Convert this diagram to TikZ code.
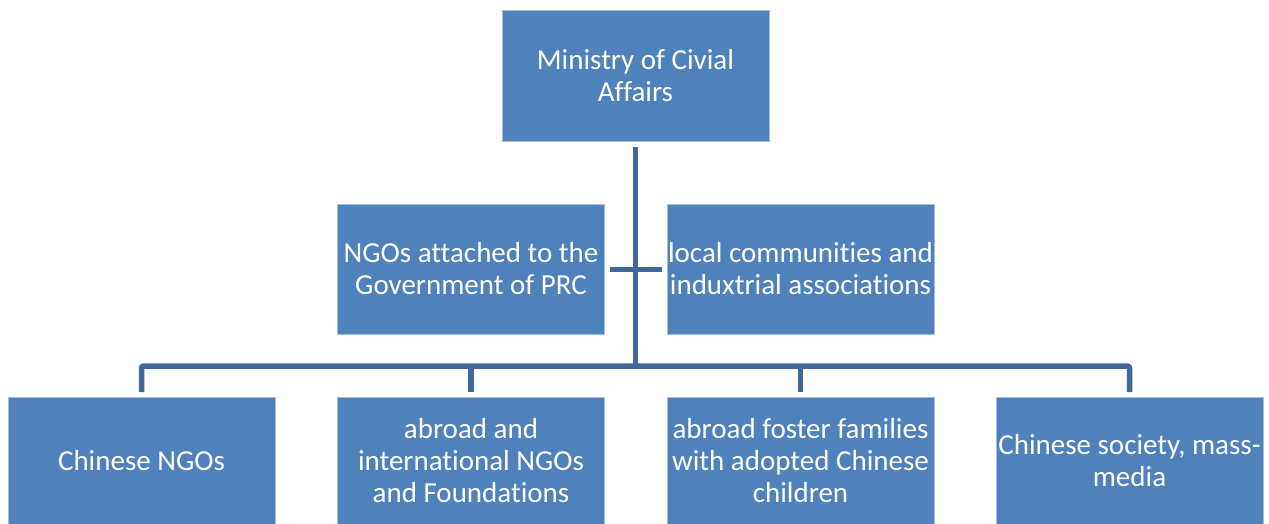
\documentclass[tikz,border=0pt]{standalone}
\usepackage{fontspec}
\setmainfont{Carlito}[Ligatures=NoCommon]
\definecolor{boxblue}{HTML}{4F81BD}
\definecolor{boxedge}{HTML}{A7BFDE}
\definecolor{linkblue}{HTML}{41689B}
\begin{document}
\begin{tikzpicture}[x=1pt,y=-1pt,
  orgbox/.style={rectangle, fill=boxblue, draw=boxedge, line width=0.6pt,
    minimum width=267pt, minimum height=130pt, inner sep=0pt, outer sep=0pt,
    text=white, align=center, font=\fontsize{29}{32}\selectfont},
  link/.style={draw=linkblue, line width=5.5pt, line join=round}]
\useasboundingbox (0,0) rectangle (1269,524);
\node[orgbox, minimum height=131pt] (top) at (635.5,75.5) {Ministry of Civial\\Affairs};
\node[orgbox] (ml) at (471,269) {NGOs attached to the\\Government of PRC};
\node[orgbox] (mr) at (800.5,269) {local communities and\\induxtrial associations};
\node[orgbox, minimum height=128pt] (b1) at (141.5,461) {Chinese NGOs};
\node[orgbox, minimum height=128pt] (b2) at (471,461) {abroad and\\international NGOs\\and Foundations};
\node[orgbox, minimum height=128pt] (b3) at (800.5,461) {abroad foster families\\with adopted Chinese\\children};
\node[orgbox, minimum height=128pt] (b4) at (1129.5,461) {Chinese society, mass-\\media};
\coordinate (hub) at (635.5,366);
\coordinate (crossL) at (610,269.5);
\coordinate (crossR) at (662,269.5);
\draw[link] ([yshift=-6pt]top.south) -- (hub);
\draw[link] (crossL) -- (crossR);
\draw[link, rounded corners=2pt] ([yshift=5pt]b1.north) -- (b1.north |- hub) -- (b4.north |- hub) -- ([yshift=5pt]b4.north);
\draw[link] (b2.north |- hub) -- ([yshift=5pt]b2.north);
\draw[link] (b3.north |- hub) -- ([yshift=5pt]b3.north);
\end{tikzpicture}
\end{document}
